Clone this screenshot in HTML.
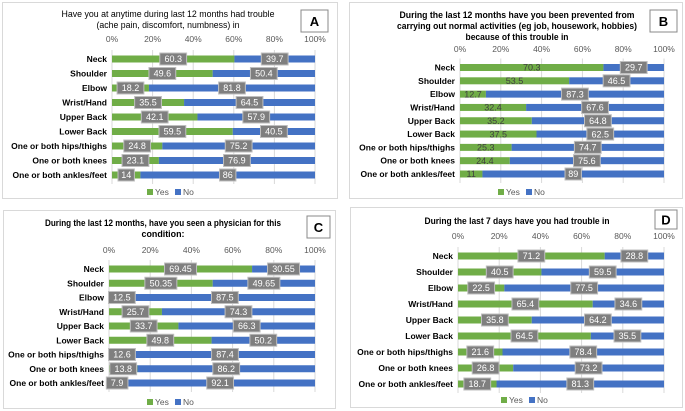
<!DOCTYPE html>
<html><head><meta charset="utf-8"><style>
body{margin:0;background:#fff;width:685px;height:411px;overflow:hidden}
svg{display:block;font-family:"Liberation Sans",sans-serif}
</style></head><body>
<svg id="s" width="685" height="411"></svg>
<script>
const categories=["Neck","Shoulder","Elbow","Wrist/Hand","Upper Back","Lower Back","One or both hips/thighs","One or both knees","One or both ankles/feet"];
const yesA=[60.3,49.6,18.2,35.5,42.1,59.5,24.8,23.1,14];
const noA=["39.7","50.4","81.8","64.5","57.9","40.5","75.2","76.9","86"];
const yesB=[70.3,53.5,12.7,32.4,35.2,37.5,25.3,24.4,11];
const noB=["29.7","46.5","87.3","67.6","64.8","62.5","74.7","75.6","89"];
const yesC=[69.45,50.35,12.5,25.7,33.7,49.8,12.6,13.8,7.9];
const noC=["30.55","49.65","87.5","74.3","66.3","50.2","87.4","86.2","92.1"];
const yesD=[71.2,40.5,22.5,65.4,35.8,64.5,21.6,26.8,18.7];
const noD=["28.8","59.5","77.5","34.6","64.2","35.5","78.4","73.2","81.3"];
const ticks=["0%","20%","40%","60%","80%","100%"];
const titleA=["Have you at anytime during last 12 months had trouble","(ache pain, discomfort, numbness) in"];
const titleB=["During the last 12 months have you been prevented from","carrying out normal activities (eg job, housework, hobbies)","because of this trouble in"];
const titleC=["During the last 12 months, have you seen a physician for this","condition:"];
const titleD=["During the last 7 days have you had trouble in"];
const NS="http://www.w3.org/2000/svg";
const S=document.getElementById('s');
function el(t,a,p,txt){const e=document.createElementNS(NS,t);for(const k in a)e.setAttribute(k,a[k]);if(txt!=null)e.textContent=txt;(p||S).appendChild(e);return e;}
function panel(cfg){
 const g=el('g',{});
 
 
 const fr=el('rect',{x:cfg.bx,y:cfg.by,width:cfg.bw,height:cfg.bh,fill:'#fff',stroke:'#d9d9d9','stroke-width':1},g);
 
 cfg.title.forEach((t,i)=>{const e=el('text',{x:cfg.tx,y:cfg.ty+i*11,'font-size':9,'text-anchor':'middle',fill:'#000','font-weight':cfg.bold?'bold':'normal',textLength:cfg.tl[i],lengthAdjust:'spacingAndGlyphs'},g,t);
  });
 const lb=el('rect',{x:cfg.lx,y:cfg.ly,width:cfg.lw,height:cfg.lh,fill:'#fff',stroke:'#888'},g);
 
 const lt=el('text',{x:cfg.lx+cfg.lw/2,y:cfg.ly+cfg.lh/2+5,'font-size':13,'font-weight':'bold','text-anchor':'middle'},g,cfg.id);
 
 const x=v=>cfg.x0+(cfg.x1-cfg.x0)*v/100;
 const y=i=>cfg.y0+(cfg.y1-cfg.y0)*i/(categories.length-1);
 ticks.forEach((t,i)=>{const xv=x(i*20);
  const gl=el('line',{x1:xv,x2:xv,y1:cfg.y0-9,y2:cfg.y1+9,stroke:'#d9d9d9'},g);
  
  const tt=el('text',{x:xv,y:cfg.ty2,'font-size':8.5,'text-anchor':'middle',fill:'#595959'},g,t);
  });
 categories.forEach((c,i)=>{const yy=y(i),v=cfg.yes[i];
  const cl=el('text',{x:cfg.x0-5,y:yy+3,'font-size':8.5,'font-weight':'bold','text-anchor':'end'},g,c);
  
  const b1=el('rect',{x:x(0),y:yy-3.5,width:x(v)-x(0),height:7,fill:'#70ad47'},g);
  
  const b2=el('rect',{x:x(v),y:yy-3.5,width:x(100)-x(v),height:7,fill:'#4472c4'},g);
  
  const lab=(txt,cx,box)=>{const w=txt.length*5.2+6;
   if(box){const r=el('rect',{x:cx-w/2,y:yy-6,width:w,height:12,fill:'#7f7f7f',stroke:'#bfbfbf'},g);
    }
   const t=el('text',{x:cx,y:yy+3.2,'font-size':9,'text-anchor':'middle',fill:box?'#fff':'#404040'},g,txt);
   };
  lab(String(v),x(v/2),cfg.boxYes);
  lab(cfg.no[i],x(v+(100-v)/2),true);
 });
 const lx=cfg.legx;
 const r1=el('rect',{x:lx,y:cfg.legy-6,width:6,height:6,fill:'#70ad47'},g);
 
 const t1=el('text',{x:lx+8,y:cfg.legy,'font-size':8.5,fill:'#595959'},g,'Yes');
 
 const r2=el('rect',{x:lx+28,y:cfg.legy-6,width:6,height:6,fill:'#4472c4'},g);
 
 const t2=el('text',{x:lx+36,y:cfg.legy,'font-size':8.5,fill:'#595959'},g,'No');
 
}
panel({id:'A',yes:yesA,no:noA,title:titleA,tl:[213,143],bold:false,bx:2.5,by:2.5,bw:335,bh:196,tx:168,ty:17,ty2:42,lx:301,ly:10,lw:27,lh:22,x0:112,x1:315,y0:59,y1:175,legx:147,legy:195,boxYes:true});
panel({id:'B',yes:yesB,no:noB,title:titleB,tl:[235,240,103],bold:true,bx:349.5,by:2.5,bw:333,bh:196,tx:517,ty:18,ty2:52,lx:650,ly:10,lw:27,lh:22,x0:460,x1:664,y0:67.5,y1:174,legx:498,legy:195,boxYes:false});
panel({id:'C',yes:yesC,no:noC,title:titleC,tl:[236,43],bold:true,bx:3.5,by:210.5,bw:332,bh:198,tx:163,ty:226,ty2:253,lx:307,ly:216,lw:23,lh:22,x0:109,x1:315,y0:269,y1:383,legx:147,legy:405,boxYes:true});
panel({id:'D',yes:yesD,no:noD,title:titleD,tl:[185],bold:true,bx:350.5,by:207.5,bw:332,bh:200,tx:517,ty:224,ty2:239,lx:655,ly:210,lw:22,lh:19,x0:458,x1:664,y0:256,y1:384,legx:501,legy:403,boxYes:true});
</script>
</body></html>
